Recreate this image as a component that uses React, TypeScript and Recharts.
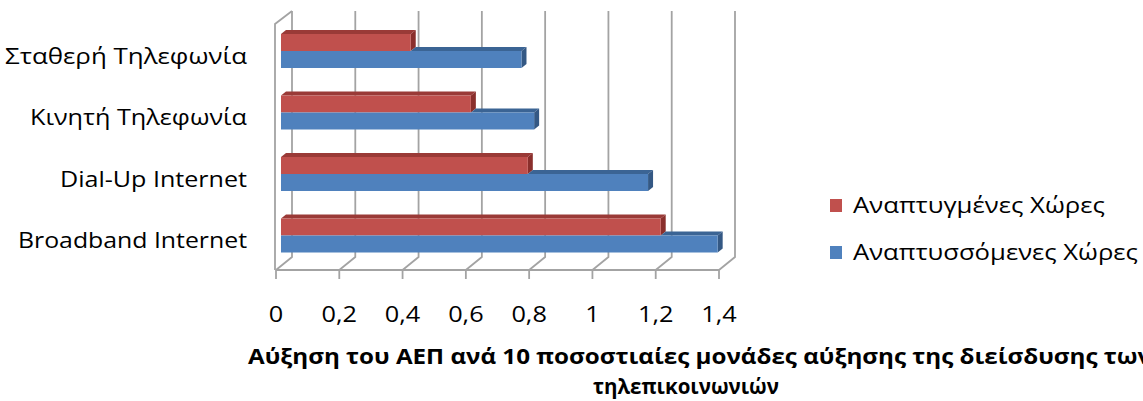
import React from 'react';
import { BarChart, Bar, XAxis, YAxis, CartesianGrid, Legend } from 'recharts';

const categories = ['Σταθερή Τηλεφωνία', 'Κινητή Τηλεφωνία', 'Dial-Up Internet', 'Broadband Internet'];
const developed = [0.41, 0.6, 0.78, 1.2];
const developing = [0.76, 0.8, 1.16, 1.38];
const xTicks = [0, 0.2, 0.4, 0.6, 0.8, 1, 1.2, 1.4];
const seriesNames = ['Αναπτυγμένες Χώρες', 'Αναπτυσσόμενες Χώρες'];
const titleLines = ['Αύξηση του ΑΕΠ ανά 10 ποσοστιαίες μονάδες αύξησης της διείσδυσης των', 'τηλεπικοινωνιών'];

const data = categories.map((name, i) => ({ name, developed: developed[i], developing: developing[i] }));

// styling
const FONT = '"Open Sans", sans-serif';
const GRID = '#a3a3a3';
const RED = { front: '#C0504D', top: '#9A3A37', side: '#8A2F2C' };
const BLUE = { front: '#4F81BD', top: '#3B6494', side: '#345884' };
const catLabelLen: Record<string, number> = {
  'Σταθερή Τηλεφωνία': 242,
  'Κινητή Τηλεφωνία': 217,
  'Dial-Up Internet': 187,
  'Broadband Internet': 229,
};
const legendLen = [252, 285];
const titleLen = [904, 186];

const DX = 5;
const DY = -4;
const DEPTH_X = 5;
const DEPTH_Y = 4;

const makeShape = (col: typeof RED, isLower: boolean) => (props: any) => {
  const { x, y, width, height, payload } = props;
  if (width == null || height == null) return <g />;
  const fx = x + DX;
  const fy = y + DY;
  let topStart = 0;
  if (isLower && payload && payload.developing) {
    topStart = Math.min(width, (width * payload.developed) / payload.developing);
  }
  const topPts = `${fx + topStart},${fy} ${fx + topStart + DEPTH_X},${fy - DEPTH_Y} ${fx + width + DEPTH_X},${fy - DEPTH_Y} ${fx + width},${fy}`;
  const sidePts = `${fx + width},${fy} ${fx + width + DEPTH_X},${fy - DEPTH_Y} ${fx + width + DEPTH_X},${fy + height - DEPTH_Y} ${fx + width},${fy + height}`;
  return (
    <g>
      <polygon points={topPts} fill={col.top} />
      <polygon points={sidePts} fill={col.side} />
      <rect x={fx} y={fy} width={width} height={height} fill={col.front} />
    </g>
  );
};

const GridLine = (p: any) => {
  const { x1, y1, y2, index } = p;
  const bx = 16;
  const by = -13;
  return (
    <g key={`gl-${x1}`}>
      <polyline
        points={`${x1},${y2} ${x1 + bx},${y2 + by} ${x1 + bx},${y1 + by}`}
        fill="none"
        stroke={GRID}
        strokeWidth={1.8}
      />
      {index === 0 && (
        <polyline
          points={`${x1 - 1},${y2} ${x1 - 1},${y1} ${x1 + bx},${y1 + by}`}
          fill="none"
          stroke={GRID}
          strokeWidth={1.8}
        />
      )}
    </g>
  );
};

const YTick = (props: any) => {
  const { x, y, payload } = props;
  const v = payload.value as string;
  return (
    <text
      x={x - 21}
      y={y + 9}
      textAnchor="end"
      fontFamily={FONT}
      fontSize={22}
      fill="#000"
      textLength={catLabelLen[v]}
      lengthAdjust="spacingAndGlyphs"
    >
      {v}
    </text>
  );
};

const XTick = (props: any) => {
  const { x, y, payload } = props;
  const label = String(payload.value).replace('.', ',');
  return (
    <g transform={`translate(${x},${y + 41}) scale(1.15,1)`}>
      <text x={0} y={0} textAnchor="middle" fontFamily={FONT} fontSize={22} fill="#000">
        {label}
      </text>
    </g>
  );
};

const AxisTitle = (props: any) => {
  const vb = props.viewBox || { x: 276, y: 270, width: 443 };
  return (
    <g>
      <text
        x={vb.x - 28}
        y={vb.y + 94}
        fontFamily={FONT}
        fontWeight={700}
        fontSize={22}
        fill="#000"
        textLength={titleLen[0]}
        lengthAdjust="spacingAndGlyphs"
      >
        {titleLines[0]}
      </text>
      <text
        x={vb.x + 317}
        y={vb.y + 124}
        fontFamily={FONT}
        fontWeight={700}
        fontSize={22}
        fill="#000"
        textLength={titleLen[1]}
        lengthAdjust="spacingAndGlyphs"
      >
        {titleLines[1]}
      </text>
    </g>
  );
};

const LegendContent = (props: any) => {
  const payload = props.payload || [];
  return (
    <svg width={323} height={90} style={{ display: 'block', overflow: 'visible' }}>
      {payload.map((item: any, i: number) => (
        <g key={i} transform={`translate(0,${i * 47})`}>
          <rect x={10} y={14} width={12} height={13} fill={item.color} />
          <text
            x={33}
            y={28}
            fontFamily={FONT}
            fontSize={22}
            fill="#000"
            textLength={legendLen[i]}
            lengthAdjust="spacingAndGlyphs"
          >
            {item.value}
          </text>
        </g>
      ))}
    </svg>
  );
};

export default function App() {
  return (
    <div style={{ position: 'absolute', left: 0, top: 0, width: 1143, height: 401, background: '#fff' }}>
      <BarChart
        width={1143}
        height={401}
        data={data}
        layout="vertical"
        margin={{ top: 24, right: 424, bottom: 101, left: 216 }}
        barGap={0}
        barSize={17}
      >
        <CartesianGrid horizontal={false} vertical={GridLine} />
        <XAxis
          type="number"
          domain={[0, 1.4]}
          ticks={xTicks}
          interval={0}
          height={30}
          tickSize={9}
          tickLine={{ stroke: GRID, strokeWidth: 1.8 }}
          axisLine={{ stroke: GRID, strokeWidth: 1.8 }}
          tick={XTick}
          label={{ content: AxisTitle }}
        />
        <YAxis type="category" dataKey="name" width={60} tickLine={false} axisLine={false} tick={YTick} />
        <Legend
          layout="horizontal"
          verticalAlign="middle"
          align="center"
          wrapperStyle={{ position: 'absolute', left: 820, top: 185, width: 323, height: 90 }}
          content={LegendContent}
        />
        <Bar
          dataKey="developed"
          name={seriesNames[0]}
          fill={RED.front}
          isAnimationActive={false}
          shape={makeShape(RED, false)}
        />
        <Bar
          dataKey="developing"
          name={seriesNames[1]}
          fill={BLUE.front}
          isAnimationActive={false}
          shape={makeShape(BLUE, true)}
        />
      </BarChart>
    </div>
  );
}
